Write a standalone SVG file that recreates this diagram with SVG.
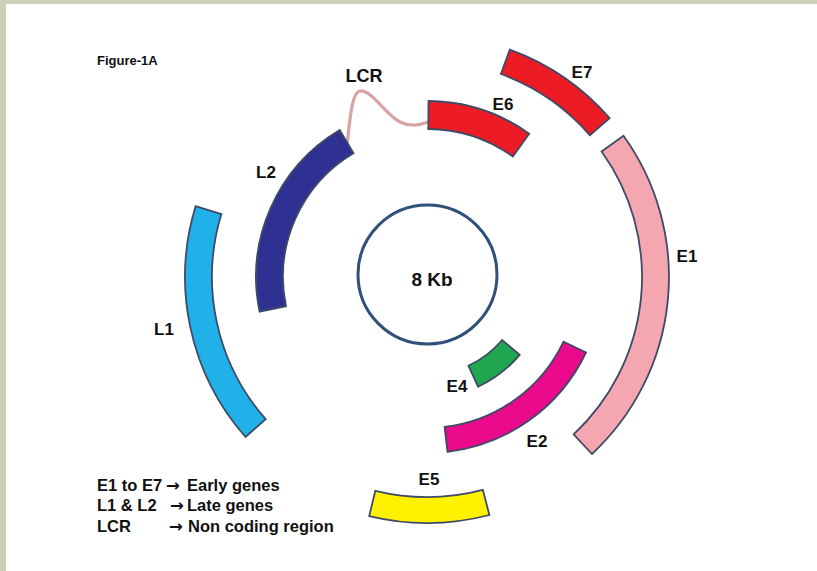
<svg xmlns="http://www.w3.org/2000/svg" width="817" height="571" viewBox="0 0 817 571">
<style>
text{font-family:"Liberation Sans",Arial,sans-serif;font-weight:bold;fill:#111}
.seg{stroke:#3f4a68;stroke-width:1.8;stroke-linejoin:miter}
.lbl{font-size:17px;text-anchor:middle}
.leg{font-size:16.5px}
.arr{font-family:"DejaVu Sans",sans-serif;font-weight:bold}
</style>
<rect x="0" y="0" width="817" height="571" fill="#ffffff"/>
<rect x="0" y="0" width="817" height="4" fill="#cbd0b8"/>
<rect x="0" y="0" width="6" height="571" fill="#cbd0b8"/>
<text x="97" y="65" font-size="13">Figure-1A</text>
<g id="connectors">
<path d="M347 146 C350 118 352 92 360 91 C372 90 385 114 400 122 C412 128 422 124 432 121" fill="none" stroke="#d9a3a3" stroke-width="3.2"/>
</g>
<g id="genome">
<circle cx="427.5" cy="274.5" r="69.5" fill="none" stroke="#2f5078" stroke-width="3"/>
<text x="432" y="286" font-size="19" text-anchor="middle">8 Kb</text>
</g>
<g id="L1">
<path class="seg" fill="#1fb1e8" d="M245.5 437 A242 242 0 0 1 195.6 206.2 L221.4 214.1 A215 215 0 0 0 265.7 419.2 Z"/>
<text class="lbl" x="164" y="335">L1</text>
</g>
<g id="L2">
<path class="seg" fill="#2e3192" d="M259.6 311.7 A171 171 0 0 1 339.7 130 L353.5 153.2 A144 144 0 0 0 286 306.2 Z"/>
<text class="lbl" x="266" y="178">L2</text>
</g>
<g id="LCR">
<text x="364" y="82" font-size="18" text-anchor="middle">LCR</text>
</g>
<g id="E6">
<path class="seg" fill="#ed1c24" d="M428.5 101 A176 176 0 0 1 529.2 133.7 L512.9 156.5 A148 148 0 0 0 428.3 129 Z"/>
<text class="lbl" x="503" y="110">E6</text>
</g>
<g id="E7">
<path class="seg" fill="#ed1c24" d="M509.8 49.6 A242 242 0 0 1 609.6 118.2 L590 135.3 A216 216 0 0 0 500.9 74 Z"/>
<text class="lbl" x="582" y="78">E7</text>
</g>
<g id="E1">
<path class="seg" fill="#f4a6b1" d="M623.5 135.8 A242 242 0 0 1 592 454 L573.6 434.3 A215 215 0 0 0 601.6 151.5 Z"/>
<text class="lbl" x="687" y="262">E1</text>
</g>
<g id="E2">
<path class="seg" fill="#ec0a8c" d="M586 352.5 A176 176 0 0 1 447.5 451.8 L444.6 427 A151 151 0 0 0 563.4 341.8 Z"/>
<text class="lbl" x="537" y="447">E2</text>
</g>
<g id="E4">
<path class="seg" fill="#1fa64f" d="M519.7 354.8 A121 121 0 0 1 478.1 386.7 L468.4 365.8 A98 98 0 0 0 502.1 340 Z"/>
<text class="lbl" x="457" y="392">E4</text>
</g>
<g id="E5">
<path class="seg" fill="#fff200" d="M489.4 515 A246 246 0 0 1 369.2 516.1 L375.3 490.8 A220 220 0 0 0 482.8 489.8 Z"/>
<text class="lbl" x="429" y="485">E5</text>
</g>
<g id="legend">
<text class="leg" y="491"><tspan x="97">E1 to E7</tspan><tspan class="arr" x="166">→</tspan><tspan x="187">Early genes</tspan></text>
<text class="leg" y="511"><tspan x="97">L1 &amp; L2</tspan><tspan class="arr" x="170">→</tspan><tspan x="187">Late genes</tspan></text>
<text class="leg" y="532"><tspan x="97">LCR</tspan><tspan class="arr" x="169">→</tspan><tspan x="188">Non coding region</tspan></text>
</g>
</svg>
